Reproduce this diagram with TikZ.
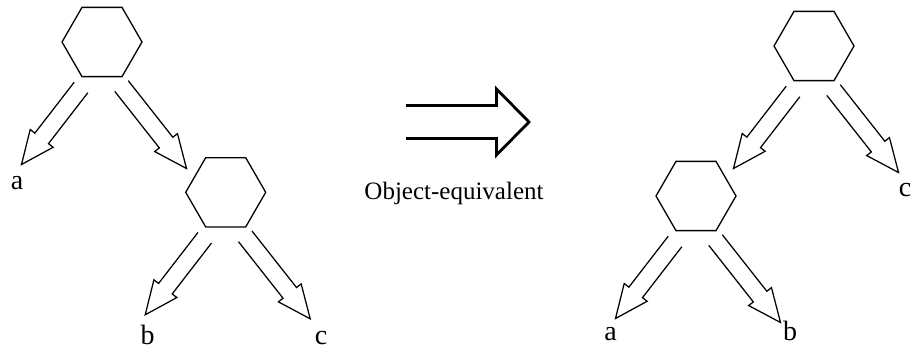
\documentclass[tikz,border=0pt]{standalone}
\usepackage{fontspec}
\setmainfont{Liberation Serif}
\usetikzlibrary{calc,shapes.geometric}
\tikzset{
  hexa/.style={draw, regular polygon, regular polygon sides=6, minimum size=80pt, inner sep=0pt, line width=1.3pt},
  hollow/.style={draw, line width=1.25pt, line join=miter},
  bigarrow/.style={draw, line width=2.8pt, line join=miter},
  lbl/.style={font=\fontsize{28}{28}\selectfont, inner sep=0pt, anchor=base},
  txt/.style={font=\fontsize{25}{25}\selectfont, inner sep=0pt, anchor=base},
}
\newcommand\hollowarrow[2]{%
  \coordinate (hb) at ($(#2)!33pt!(#1)$);
  \draw[hollow] ($(#1)!8.6pt!90:(#2)$) -- ($(hb)!8.6pt!90:(#2)$) -- ($(hb)!14.5pt!90:(#2)$) -- (#2) -- ($(hb)!14.5pt!-90:(#2)$) -- ($(hb)!8.6pt!-90:(#2)$) -- ($(#1)!8.6pt!-90:(#2)$);}
\newcommand\hexarrows[1]{%
  \coordinate (#1-ls) at ($(#1.center)+(-21,45.5)$);
  \coordinate (#1-lt) at ($(#1.center)+(-80.5,122.5)$);
  \coordinate (#1-rs) at ($(#1.center)+(19.5,44)$);
  \coordinate (#1-rt) at ($(#1.center)+(84.5,126.5)$);
  \hollowarrow{#1-ls}{#1-lt}
  \hollowarrow{#1-rs}{#1-rt}}
\begin{document}
\begin{tikzpicture}[x=1pt,y=-1pt]
\useasboundingbox (0,0) rectangle (912,356);
% left tree
\node[hexa] (h1) at (102,42) {};
\node[hexa] (h2) at (225.7,192.3) {};
\hexarrows{h1}
\hexarrows{h2}
\node[lbl] (la1) at (17,189.3) {a};
\node[lbl] (lb1) at (147.5,344) {b};
\node[lbl] (lc1) at (321,344) {c};
% right tree
\node[hexa] (h3) at (814,46) {};
\node[hexa] (h4) at (696,196) {};
\hexarrows{h3}
\hexarrows{h4}
\node[lbl] (la2) at (610.5,340) {a};
\node[lbl] (lb2) at (790,340) {b};
\node[lbl] (lc2) at (905,196) {c};
% middle arrow
\coordinate (ms) at (406,122);
\coordinate (mt) at (529,122);
\draw[bigarrow] ($(ms)+(0,-16.5)$) -- ($(mt)+(-32.5,-16.5)$) -- ($(mt)+(-32.5,-33)$) -- (mt) -- ($(mt)+(-32.5,33)$) -- ($(mt)+(-32.5,16.5)$) -- ($(ms)+(0,16.5)$);
\node[txt] (oe) at (454,199.3) {Object-equivalent};
\end{tikzpicture}
\end{document}
